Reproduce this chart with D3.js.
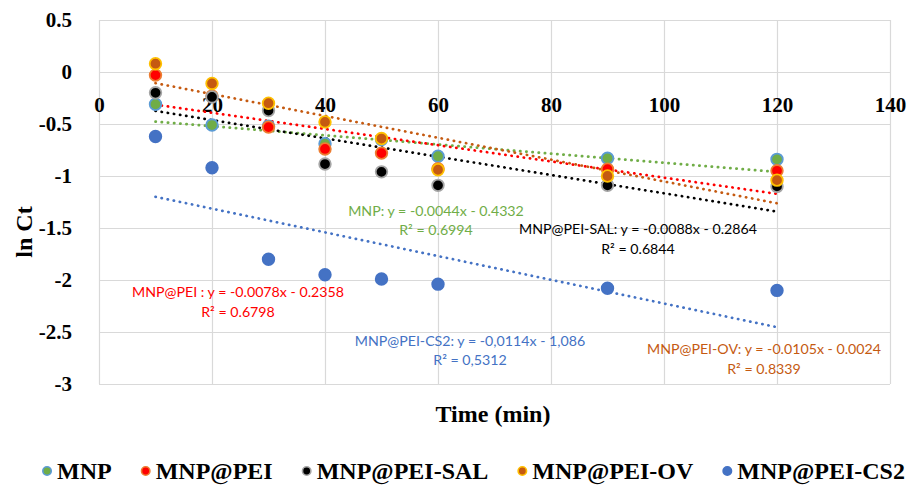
<!DOCTYPE html>
<html>
<head>
<meta charset="utf-8">
<script src="https://cdn.jsdelivr.net/npm/d3@7"></script>
<style>
  html, body { margin: 0; padding: 0; background: #fff; }
  svg { display: block; }
</style>
</head>
<body>
<script>
// ---- Data ----
const times = [10, 20, 30, 40, 50, 60, 90, 120];
const seriesNames = ["MNP", "MNP@PEI", "MNP@PEI-SAL", "MNP@PEI-OV", "MNP@PEI-CS2"];
const mnp    = [-0.31, -0.51, -0.52, -0.69, -0.65, -0.81, -0.83, -0.84];
const mnpPei = [-0.03, -0.23, -0.53, -0.74, -0.78, -0.93, -0.935, -0.95];
const mnpSal = [-0.20, -0.24, -0.37, -0.885, -0.96, -1.09, -1.09, -1.10];
const mnpOv  = [0.08, -0.11, -0.30, -0.48, -0.64, -0.94, -1.00, -1.04];
const mnpCs2 = [-0.62, -0.92, -1.80, -1.95, -1.99, -2.04, -2.08, -2.10];
const slopes = [-0.0044, -0.0078, -0.0088, -0.0105, -0.0114];
const intercepts = [-0.4332, -0.2358, -0.2864, -0.0024, -1.086];
const eqLabels = [
  "MNP: y = -0.0044x - 0.4332",
  "MNP@PEI : y = -0.0078x - 0.2358",
  "MNP@PEI-SAL: y = -0.0088x - 0.2864",
  "MNP@PEI-OV: y = -0.0105x - 0.0024",
  "MNP@PEI-CS2: y = -0,0114x - 1,086"
];
const r2Labels = ["R² = 0.6994", "R² = 0.6798", "R² = 0.6844", "R² = 0.8339", "R² = 0,5312"];
const xTicks = [0, 20, 40, 60, 80, 100, 120, 140];
const yTicks = [0.5, 0, -0.5, -1, -1.5, -2, -2.5, -3];
const yTickLabels = ["0.5", "0", "-0.5", "-1", "-1.5", "-2", "-2.5", "-3"];

// ---- Styles ----
const fills   = ["#70ad47", "#ff0000", "#000000", "#c55a11", "#4472c4"];
const strokes = ["#5b9bd5", "#ed7d31", "#a5a5a5", "#ffc000", "#4472c4"];
const lineColors = ["#70ad47", "#ff0000", "#000000", "#c55a11", "#4472c4"];
const labelPos = [ // center x, baseline y of equation line
  [436, 215.5], [238, 297], [638, 234], [764, 354], [470, 345.5]
];

const allValues = [mnp, mnpPei, mnpSal, mnpOv, mnpCs2];
const series = seriesNames.map((n, i) => ({
  name: n, i,
  points: times.map((t, k) => ({ x: t, y: allValues[i][k] }))
}));

const W = 908, H = 486;
const plot = { left: 99, right: 890, top: 20, bottom: 384 };

const svg = d3.select("body").append("svg").attr("width", W).attr("height", H);

const x = d3.scaleLinear().domain([0, 140]).range([plot.left, plot.right]);
const y = d3.scaleLinear().domain([-3, 0.5]).range([plot.bottom, plot.top]);

const serif = "'Liberation Serif', 'Times New Roman', serif";
const sans = "Lato, 'Open Sans', 'Liberation Sans', sans-serif";

// horizontal gridlines + y labels
const yAxis = svg.append("g")
  .attr("transform", `translate(${plot.left},0)`)
  .call(d3.axisLeft(y).tickValues(yTicks)
    .tickFormat((d, i) => yTickLabels[i])
    .tickSize(-(plot.right - plot.left)).tickPadding(27));
yAxis.select(".domain").remove();
yAxis.selectAll("line").attr("stroke", "#d9d9d9").attr("stroke-width", 1.2);
yAxis.selectAll("text").attr("font-family", serif).attr("font-weight", "bold")
  .attr("font-size", 21).attr("fill", "#000");

// vertical gridlines
const xGrid = svg.append("g")
  .attr("transform", `translate(0,${plot.bottom})`)
  .call(d3.axisBottom(x).tickValues(xTicks).tickFormat("")
    .tickSize(-(plot.bottom - plot.top)));
xGrid.select(".domain").remove();
xGrid.selectAll("line").attr("stroke", "#d9d9d9").attr("stroke-width", 1.2);

// x axis at y=0 with labels
const xAxis = svg.append("g")
  .attr("transform", `translate(0,${y(0)})`)
  .call(d3.axisBottom(x).tickValues(xTicks).tickFormat(d3.format("d"))
    .tickSize(0).tickPadding(25));
xAxis.select(".domain").attr("stroke", "#d9d9d9").attr("stroke-width", 1.2);
xAxis.selectAll("text").attr("font-family", serif).attr("font-weight", "bold")
  .attr("font-size", 21).attr("fill", "#000");

// trendlines
const line = d3.line().x(d => x(d[0])).y(d => y(d[1]));
series.forEach(s => {
  const xs = d3.extent(times);
  const pts = xs.map(t => [t, slopes[s.i] * t + intercepts[s.i]]);
  svg.append("path").datum(pts).attr("d", line)
    .attr("fill", "none").attr("stroke", lineColors[s.i])
    .attr("stroke-width", 2.7).attr("stroke-linecap", "round")
    .attr("stroke-dasharray", "0.3 5.9");
});

// points
series.forEach(s => {
  svg.append("g").selectAll("circle").data(s.points).join("circle")
    .attr("cx", d => x(d.x)).attr("cy", d => y(d.y)).attr("r", 5.8)
    .attr("fill", fills[s.i]).attr("stroke", strokes[s.i]).attr("stroke-width", 1.8);
});

// equation labels
series.forEach(s => {
  const [cx, by] = labelPos[s.i];
  const g = svg.append("g").attr("font-family", sans).attr("font-size", 14.2)
    .attr("fill", lineColors[s.i]).attr("text-anchor", "middle");
  g.append("text").attr("x", cx).attr("y", by).text(eqLabels[s.i]);
  g.append("text").attr("x", cx).attr("y", by + 19.5).text(r2Labels[s.i]);
});

// axis titles
svg.append("text").attr("transform", `translate(32,232) rotate(-90)`)
  .attr("text-anchor", "middle").attr("font-family", serif).attr("font-weight", "bold")
  .attr("font-size", 24).text("ln Ct");
svg.append("text").attr("x", 493).attr("y", 422)
  .attr("text-anchor", "middle").attr("font-family", serif).attr("font-weight", "bold")
  .attr("font-size", 24).text("Time (min)");

// legend
const leg = svg.append("g");
let cursor = 0;
const gapItems = 34;
series.forEach(s => {
  const it = leg.append("g");
  it.append("circle").attr("cx", 0).attr("cy", -8).attr("r", 4.2)
    .attr("fill", fills[s.i]).attr("stroke", strokes[s.i]).attr("stroke-width", 1.6);
  const t = it.append("text").attr("x", 10).attr("y", 0)
    .attr("font-family", serif).attr("font-weight", "bold").attr("font-size", 24)
    .text(s.name);
  const w = 10 + t.node().getComputedTextLength();
  it.attr("transform", `translate(${cursor},0)`);
  cursor += w + gapItems;
});
const totalW = cursor - gapItems;
leg.attr("transform", `translate(${472 - totalW / 2 + 4},479)`);
</script>
</body>
</html>
